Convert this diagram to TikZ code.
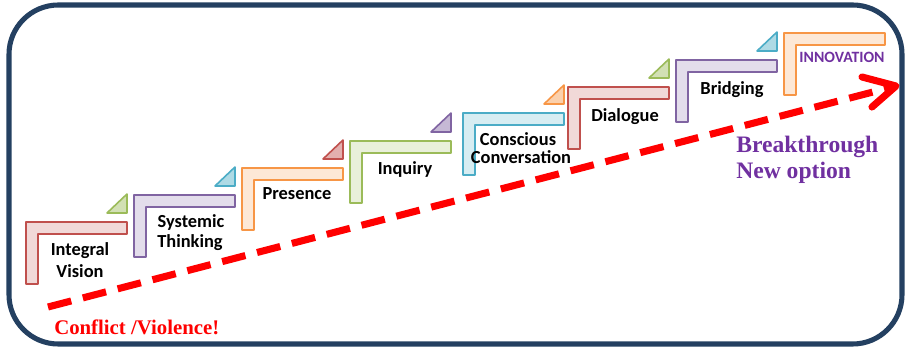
\documentclass[tikz,border=0pt]{standalone}
\usepackage{fontspec}
\setmainfont{Liberation Serif}
\newfontfamily\labelfont{Carlito}
\definecolor{frameblue}{RGB}{36,64,97}
\definecolor{ored}{RGB}{192,80,77}
\definecolor{opurple}{RGB}{128,100,162}
\definecolor{oorange}{RGB}{247,150,70}
\definecolor{ogreen}{RGB}{155,187,89}
\definecolor{ocyan}{RGB}{75,172,198}
\definecolor{txtpurple}{RGB}{112,48,160}
\definecolor{arrred}{RGB}{255,0,0}
\usetikzlibrary{calc}
\tikzset{
  stepshape/.style={draw=#1, fill=#1!22, line width=1.6pt, line join=round},
  tri/.style={draw=#1, fill=#1!45, line width=1.2pt, line join=round},
  lbl/.style={font=\labelfont\bfseries\fontsize{13.8}{14}\selectfont, text=black, inner sep=0pt, anchor=base},
  serifred/.style={font=\bfseries\fontsize{15.6}{18}\selectfont, text=arrred, inner sep=0pt, anchor=west},
  serifpurple/.style={font=\bfseries\fontsize{17.7}{19.5}\selectfont, text=txtpurple, inner sep=0pt, anchor=west},
  dasharrow/.style={draw=arrred, line width=5.3pt, dash pattern=on 18pt off 9pt},
  arrowarm/.style={draw=arrred, line width=5.3pt, line cap=round, line join=round},
}
\newcommand{\drawstep}[4]{%
  \path[stepshape=#3] (#1,#2) -- ++(101,0) -- ++(0,12) -- ++(-89,0) -- ++(0,50) -- ++(-12,0) -- cycle;
  \ifx\relax#4\relax\else
  \path[tri=#4] ($(#1,#2)+(81,-9)$) -- ++(20,0) -- ++(0,-19) -- cycle;
  \fi
}
\begin{document}
\begin{tikzpicture}[x=0.75pt,y=-0.75pt]
\useasboundingbox (0,0) rectangle (906,348);
\draw[frameblue, line width=3.8pt, rounded corners=37pt] (9,5) rectangle (902,344);

\drawstep{26}{222}{ored}{ogreen}
\drawstep{134}{195}{opurple}{ocyan}
\drawstep{242}{168}{oorange}{ored}
\drawstep{350}{141}{ogreen}{opurple}
\drawstep{463}{113}{ocyan}{oorange}
\drawstep{568}{87}{ored}{ogreen}
\drawstep{676}{60}{opurple}{ocyan}
\drawstep{784}{33}{oorange}{}

\node[lbl] (integral) at (80,256) {Integral};
\node[lbl] (vision) at (80,278) {Vision};
\node[lbl] (systemic) at (191,228) {Systemic};
\node[lbl] (thinking) at (190,248) {Thinking};
\node[lbl] (presence) at (297,200) {Presence};
\node[lbl] (inquiry) at (405,175) {Inquiry};
\node[lbl] (conscious) at (518,146) {Conscious};
\node[lbl] (conversation) at (521,164) {Conversation};
\node[lbl] (dialogue) at (625,122) {Dialogue};
\node[lbl] (bridging) at (732,95) {Bridging};
\node[lbl, text=txtpurple, font=\labelfont\bfseries\fontsize{11.8}{12}\selectfont] (innovation) at (842,63) {INNOVATION};

\node[serifred] (conflict) at (54,327) {Conflict /Violence!};
\node[serifpurple] (breakthrough) at (736,147) {Breakthrough};
\node[serifpurple] (newoption) at (736,173) {New option};

\coordinate (astart) at (48,307);
\coordinate (atip) at (896,86);
\coordinate (armup) at (862,77);
\coordinate (armdown) at (872,107);
\draw[dasharrow] (astart) -- ($(atip)!4pt!(astart)$);
\draw[arrowarm] (armup) -- (atip) -- (armdown);
\end{tikzpicture}
\end{document}
